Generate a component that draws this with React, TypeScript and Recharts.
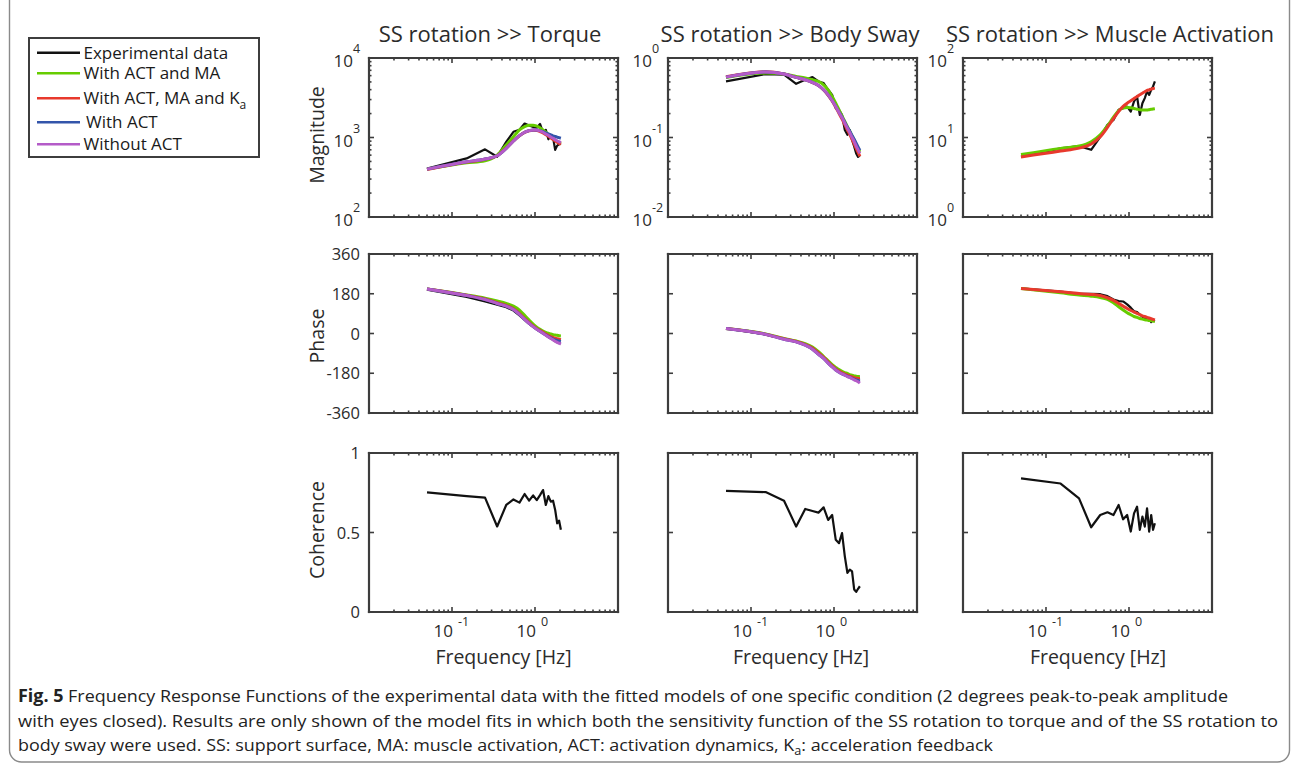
import React from 'react';
import { ComposedChart, Line, XAxis, YAxis } from 'recharts';

// excitation frequencies [Hz]
const FREQ = [0.05, 0.15, 0.25, 0.35, 0.45, 0.55, 0.65, 0.75, 0.85, 0.95, 1.05, 1.15, 1.25, 1.35, 1.45, 1.55, 1.65, 1.75, 1.85, 1.95, 2.05];

// SS rotation >> Torque, magnitude
const tqMagExp = [408, 546, 710, 573, 880, 1180, 1250, 1500, 1420, 1360, 1330, 1480, 1150, 1250, 950, 1080, 1000, 700, 790, 820, 840];
const tqMagG = [400, 480, 509, 600, 803, 1023, 1245, 1368, 1430, 1430, 1390, 1330, 1245, 1165, 1090, 1020, 960, 930, 885, 860, 840];
const tqMagR = [395, 490, 532, 590, 735, 905, 1050, 1160, 1215, 1235, 1225, 1190, 1140, 1085, 1035, 985, 945, 905, 870, 845, 820];
const tqMagB = [400, 494, 536, 589, 731, 903, 1054, 1165, 1222, 1245, 1245, 1220, 1185, 1140, 1110, 1075, 1050, 1030, 1010, 995, 980];
const tqMagP = [400, 494, 536, 589, 731, 903, 1054, 1165, 1222, 1245, 1240, 1208, 1165, 1107, 1065, 1014, 977, 938, 905, 885, 859];

// SS rotation >> Body Sway, magnitude
const bsMagExp = [0.507, 0.628, 0.616, 0.474, 0.532, 0.575, 0.507, 0.483, 0.398, 0.344, 0.234, 0.223, 0.192, 0.124, 0.108, 0.124, 0.093, 0.077, 0.063, 0.057, 0.06];
const bsMagG = [0.57, 0.646, 0.628, 0.587, 0.56, 0.532, 0.507, 0.46, 0.398, 0.328, 0.27, 0.223, 0.187, 0.159, 0.137, 0.119, 0.105, 0.093, 0.082, 0.073, 0.066];
const bsMagR = [0.58, 0.67, 0.63, 0.57, 0.53, 0.49, 0.45, 0.395, 0.34, 0.288, 0.24, 0.2, 0.17, 0.145, 0.125, 0.109, 0.095, 0.083, 0.073, 0.065, 0.058];
const bsMagB = [0.575, 0.666, 0.628, 0.57, 0.532, 0.493, 0.452, 0.398, 0.344, 0.292, 0.246, 0.208, 0.18, 0.155, 0.135, 0.12, 0.106, 0.095, 0.085, 0.076, 0.069];
const bsMagP = [0.575, 0.666, 0.628, 0.57, 0.532, 0.493, 0.452, 0.398, 0.344, 0.292, 0.245, 0.206, 0.177, 0.151, 0.131, 0.115, 0.1, 0.089, 0.078, 0.07, 0.063];

// SS rotation >> Muscle Activation, magnitude
const maMagExp = [5.73, 7.3, 7.8, 7.0, 10.2, 14.4, 16.6, 22.3, 23.4, 24.5, 21.2, 28.4, 32.8, 19.2, 27, 31.3, 37.9, 34.4, 39.8, 43.9, 50.7];
const maMagG = [6.1, 7.3, 7.8, 8.85, 10.8, 14, 18, 21.8, 23.4, 23.8, 23.6, 23.2, 22.7, 22.3, 22.2, 22.1, 22.2, 22.4, 22.6, 22.8, 23];
const maMagR = [5.7, 6.75, 7.36, 8.27, 10.2, 13.4, 17.3, 21.2, 24.6, 27, 28.9, 30.9, 32.8, 34.4, 36.1, 37.6, 39.1, 39.8, 40.6, 41.4, 41.8];

// phase [deg]
const tqPhExp = [199, 166, 145, 130, 119, 104, 82, 61, 44, 31, 19, 10, 1, -8, -16, -23, -29, -35, -40, -44, -44];
const tqPhG = [202, 175, 160, 147, 136, 124, 106, 82, 61, 43, 29, 19, 11, 5, 1, -2, -5, -7, -8, -10, -11];
const tqPhR = [202, 173, 156, 139, 127, 112, 90, 67, 49, 34, 22, 13, 5, -3, -9, -14, -18, -21, -24, -26, -28];
const tqPhB = [202, 172, 154, 136, 124, 109, 86, 64, 46, 31, 19, 10, 1, -7, -14, -20, -25, -29, -32, -34, -36];
const tqPhP = [202, 172, 154, 136, 124, 109, 86, 64, 46, 31, 19, 10, 1, -8, -16, -23, -29, -35, -40, -44, -48];

const bsPhExp = [23, -4, -25, -37, -52, -70, -93, -112, -133, -150, -164, -174, -182, -188, -193, -197, -201, -204, -206, -202, -200];
const bsPhG = [23, -2, -22, -34, -46, -61, -82, -104, -124, -141, -154, -163, -171, -177, -181, -186, -189, -192, -193, -195, -195];
const bsPhR = [23, -3, -24, -36, -50, -66, -88, -108, -129, -146, -160, -170, -178, -184, -189, -193, -197, -200, -202, -204, -205];
const bsPhB = [23, -4, -26, -38, -53, -71, -94, -113, -134, -151, -165, -175, -183, -189, -194, -198, -203, -207, -210, -213, -216];
const bsPhP = [23, -4, -26, -38, -53, -71, -94, -113, -134, -151, -165, -175, -183, -189, -195, -199, -205, -210, -214, -219, -225];

const maPhExp = [204, 190, 180, 180, 178, 169, 154, 147, 145, 132, 117, 101, 97, 86, 76, 70, 67, 64, 52, 59, 55];
const maPhG = [204, 184, 174, 169, 163, 154, 139, 121, 106, 94, 85, 77, 73, 68, 65, 62, 61, 59, 58, 56, 56];
const maPhR = [204, 189, 181, 177, 172, 162, 150, 136, 124, 113, 104, 97, 91, 85, 80, 77, 73, 70, 67, 64, 61];

// coherence
const tqCoh = [0.752, 0.729, 0.719, 0.538, 0.673, 0.708, 0.688, 0.742, 0.7, 0.733, 0.704, 0.735, 0.767, 0.673, 0.729, 0.694, 0.7, 0.642, 0.558, 0.575, 0.517];
const bsCoh = [0.762, 0.754, 0.7, 0.537, 0.648, 0.635, 0.625, 0.658, 0.579, 0.61, 0.454, 0.433, 0.496, 0.35, 0.246, 0.267, 0.256, 0.142, 0.127, 0.146, 0.162];
const maCoh = [0.84, 0.808, 0.715, 0.533, 0.61, 0.627, 0.61, 0.673, 0.583, 0.61, 0.506, 0.62, 0.662, 0.517, 0.6, 0.537, 0.652, 0.506, 0.61, 0.517, 0.558];

// axes
const X_TICKS = [0.01, 0.02, 0.03, 0.04, 0.05, 0.06, 0.07, 0.08, 0.09, 0.1, 0.2, 0.3, 0.4, 0.5, 0.6, 0.7, 0.8, 0.9, 1, 2, 3, 4, 5, 6, 7, 8, 9, 10];
const X_LABELED = [0.1, 1];
const PHASE_TICKS = [-360, -180, 0, 180, 360];
const COH_TICKS = [0, 0.5, 1];
const TITLES = ['SS rotation >> Torque', 'SS rotation >> Body Sway', 'SS rotation >> Muscle Activation'];
const ROW_LABELS = ['Magnitude', 'Phase', 'Coherence'];
const LEGEND = ['Experimental data', 'With ACT and MA', 'With ACT, MA and K', 'With ACT', 'Without ACT'];

const COLORS = { exp: '#111111', g: '#66cc00', r: '#e8392d', b: '#3355aa', p: '#b45bc8' };
const AXIS = '#3d3d3d';
const TEXT = '#2b2b2b';
const FONT = '"Open Sans", "Noto Sans", sans-serif';

const COL_X = [369, 668, 963];
const ROW_Y = [58, 254, 453];
const BOX_W = 249;
const BOX_H = 159;

const logTicks = (lo: number, hi: number) => {
  const out: number[] = [];
  for (let e = lo; e < hi; e++) {
    for (let m = 1; m < 10; m++) out.push(m * Math.pow(10, e));
  }
  out.push(Math.pow(10, hi));
  return out;
};

const isDecade = (v: number) => Math.abs(Math.log10(v) - Math.round(Math.log10(v))) < 1e-6;

const rows = (cols: Record<string, number[]>) =>
  FREQ.map((f, i) => {
    const r: Record<string, number> = { f };
    Object.keys(cols).forEach((k) => (r[k] = cols[k][i]));
    return r;
  });

const XTick = (props: any) => {
  const { x, y, payload, side, labels } = props;
  const v = payload.value;
  const major = isDecade(v);
  const len = major ? 5 : 2.5;
  const dir = side === 'bottom' ? -1 : 1;
  const exp = Math.round(Math.log10(v));
  const showLabel = labels && X_LABELED.some((t) => Math.abs(t - v) < 1e-9);
  return (
    <g>
      <line x1={x} y1={y} x2={x} y2={y + dir * len} stroke={AXIS} strokeWidth={1.6} />
      {showLabel && (
        <g fontFamily={FONT} fill={TEXT}>
          <text x={x + 1} y={y + 25} fontSize={17} textAnchor="end">10</text>
          <text x={x + 6} y={y + 14} fontSize={12.5} textAnchor="start">{exp}</text>
        </g>
      )}
    </g>
  );
};

const YTick = (props: any) => {
  const { x, y, payload, side, kind, labels } = props;
  const v = payload.value;
  const major = kind !== 'log' || isDecade(v);
  const len = major ? 5 : 2.5;
  const dir = side === 'left' ? 1 : -1;
  let label = null;
  if (labels && major) {
    if (kind === 'log') {
      const exp = Math.round(Math.log10(v));
      label = (
        <g fontFamily={FONT} fill={TEXT}>
          <text x={x - 16} y={y + 9} fontSize={17} textAnchor="end">10</text>
          <text x={x - 16} y={y - 5} fontSize={12.5} textAnchor="start">{exp}</text>
        </g>
      );
    } else {
      label = (
        <text x={x - 9} y={y + 6} fontSize={16.5} textAnchor="end" fontFamily={FONT} fill={TEXT}>
          {v}
        </text>
      );
    }
  }
  return (
    <g>
      <line x1={x} y1={y} x2={x + dir * len} y2={y} stroke={AXIS} strokeWidth={1.6} />
      {label}
    </g>
  );
};

type Series = { key: string; color: string; width: number; smooth: boolean };

const SERIES_ALL: Series[] = [
  { key: 'exp', color: COLORS.exp, width: 2.2, smooth: false },
  { key: 'g', color: COLORS.g, width: 3, smooth: true },
  { key: 'r', color: COLORS.r, width: 3, smooth: true },
  { key: 'b', color: COLORS.b, width: 3, smooth: true },
  { key: 'p', color: COLORS.p, width: 3, smooth: true },
];

interface PanelProps {
  col: number;
  row: number;
  data: Record<string, number>[];
  keys: string[];
  kind: 'log' | 'lin';
  domain: [number, number];
  ticks: number[];
  yLabels: boolean;
  xLabels: boolean;
}

const Panel = ({ col, row, data, keys, kind, domain, ticks, yLabels, xLabels }: PanelProps) => {
  const left = COL_X[col];
  const top = ROW_Y[row];
  const axisLine = { stroke: AXIS, strokeWidth: 2.2, strokeLinecap: 'square' as const };
  const xCommon = {
    dataKey: 'f',
    type: 'number' as const,
    scale: 'log' as const,
    domain: [0.01, 10],
    ticks: X_TICKS,
    interval: 0,
    allowDataOverflow: true,
    tickSize: 0,
    tickMargin: 0,
    tickLine: false,
    axisLine,
  };
  const yCommon = {
    type: 'number' as const,
    scale: kind === 'log' ? ('log' as const) : ('linear' as const),
    domain,
    ticks,
    interval: 0,
    allowDataOverflow: true,
    tickSize: 0,
    tickMargin: 0,
    tickLine: false,
    axisLine,
  };
  // top / right axes get 1px so that they are drawn (box on, ticks on all sides)
  return (
    <div style={{ position: 'absolute', left: left - 80, top: top - 30 }}>
      <ComposedChart width={BOX_W + 100} height={BOX_H + 80} data={data} margin={{ top: 29, right: 19, bottom: 0, left: 0 }}>
        <XAxis {...xCommon} xAxisId="b" orientation="bottom" height={50}
          tick={(p: any) => <XTick {...p} side="bottom" labels={xLabels} />} />
        <XAxis {...xCommon} xAxisId="t" orientation="top" height={1}
          tick={(p: any) => <XTick {...p} side="top" labels={false} />} />
        <YAxis {...yCommon} yAxisId="l" orientation="left" width={80}
          tick={(p: any) => <YTick {...p} side="left" kind={kind} labels={yLabels} />} />
        <YAxis {...yCommon} yAxisId="r" orientation="right" width={1}
          tick={(p: any) => <YTick {...p} side="right" kind={kind} labels={false} />} />
        {SERIES_ALL.filter((s) => keys.includes(s.key)).map((s) => (
          <Line
            key={s.key}
            xAxisId="b"
            yAxisId="l"
            dataKey={s.key}
            type={s.smooth ? 'monotone' : 'linear'}
            stroke={s.color}
            strokeWidth={s.width}
            strokeLinejoin="round"
            dot={false}
            activeDot={false}
            isAnimationActive={false}
          />
        ))}
      </ComposedChart>
    </div>
  );
};

const FIVE = ['exp', 'g', 'r', 'b', 'p'];
const THREE = ['exp', 'g', 'r'];

const App = () => {
  const legendY = [52.7, 73.3, 98.3, 122.3, 144.3];
  const legendColors = [COLORS.exp, COLORS.g, COLORS.r, COLORS.b, COLORS.p];
  return (
    <div style={{ position: 'absolute', left: 0, top: 0, width: 1292, height: 768, background: '#fff', overflow: 'hidden' }}>
      <svg width={1292} height={768} style={{ position: 'absolute', left: 0, top: 0 }} fontFamily={FONT}>
        <rect x={9.5} y={-30} width={1280} height={792} rx={12} fill="none" stroke="#8a8a8a" strokeWidth={1.4} />
        {TITLES.map((t, i) => (
          <text key={t} x={[490, 790, 1110][i]} y={42} fontSize={22} textAnchor="middle" fill={TEXT}>{t}</text>
        ))}
        {ROW_LABELS.map((t, i) => (
          <text key={t} x={316} y={[135, 336, 530][i]} fontSize={19.5} textAnchor="middle" dominantBaseline="central"
            transform={`rotate(-90 316 ${[135, 336, 530][i]})`} fill={TEXT}>{t}</text>
        ))}
        {[503.5, 801, 1098].map((cx) => (
          <text key={cx} x={cx} y={664} fontSize={19.5} textAnchor="middle" fill={TEXT}>Frequency [Hz]</text>
        ))}
        <rect x={29} y={38} width={230} height={119} fill="#fff" stroke={AXIS} strokeWidth={2} />
        {LEGEND.map((t, i) => (
          <g key={t}>
            <line x1={37} x2={80} y1={legendY[i]} y2={legendY[i]} stroke={legendColors[i]} strokeWidth={2.6} />
            <text x={i === 3 ? 86 : 83.5} y={legendY[i] + 6} fontSize={17} fill="#1a1a1a">
              {t}
              {i === 2 && <tspan fontSize={12} dy={5}>a</tspan>}
            </text>
          </g>
        ))}
        <g fontSize={17} fill="#222">
          <text x={18} y={702} textLength={1210} lengthAdjust="spacingAndGlyphs">
            <tspan fontWeight="bold">Fig. 5</tspan> Frequency Response Functions of the experimental data with the fitted models of one specific condition (2 degrees peak-to-peak amplitude
          </text>
          <text x={18} y={727} textLength={1260} lengthAdjust="spacingAndGlyphs">
            with eyes closed). Results are only shown of the model fits in which both the sensitivity function of the SS rotation to torque and of the SS rotation to
          </text>
          <text x={18} y={751} textLength={975} lengthAdjust="spacingAndGlyphs">
            body sway were used. SS: support surface, MA: muscle activation, ACT: activation dynamics, K<tspan fontSize={12} dy={4}>a</tspan><tspan fontSize={17} dy={-4}>: acceleration feedback</tspan>
          </text>
        </g>
      </svg>

      <Panel col={0} row={0} data={rows({ exp: tqMagExp, g: tqMagG, r: tqMagR, b: tqMagB, p: tqMagP })} keys={FIVE}
        kind="log" domain={[100, 10000]} ticks={logTicks(2, 4)} yLabels xLabels={false} />
      <Panel col={1} row={0} data={rows({ exp: bsMagExp, g: bsMagG, r: bsMagR, b: bsMagB, p: bsMagP })} keys={FIVE}
        kind="log" domain={[0.01, 1]} ticks={logTicks(-2, 0)} yLabels xLabels={false} />
      <Panel col={2} row={0} data={rows({ exp: maMagExp, g: maMagG, r: maMagR })} keys={THREE}
        kind="log" domain={[1, 100]} ticks={logTicks(0, 2)} yLabels xLabels={false} />

      <Panel col={0} row={1} data={rows({ exp: tqPhExp, g: tqPhG, r: tqPhR, b: tqPhB, p: tqPhP })} keys={FIVE}
        kind="lin" domain={[-360, 360]} ticks={PHASE_TICKS} yLabels xLabels={false} />
      <Panel col={1} row={1} data={rows({ exp: bsPhExp, g: bsPhG, r: bsPhR, b: bsPhB, p: bsPhP })} keys={FIVE}
        kind="lin" domain={[-360, 360]} ticks={PHASE_TICKS} yLabels={false} xLabels={false} />
      <Panel col={2} row={1} data={rows({ exp: maPhExp, g: maPhG, r: maPhR })} keys={THREE}
        kind="lin" domain={[-360, 360]} ticks={PHASE_TICKS} yLabels={false} xLabels={false} />

      <Panel col={0} row={2} data={rows({ exp: tqCoh })} keys={['exp']}
        kind="lin" domain={[0, 1]} ticks={COH_TICKS} yLabels xLabels />
      <Panel col={1} row={2} data={rows({ exp: bsCoh })} keys={['exp']}
        kind="lin" domain={[0, 1]} ticks={COH_TICKS} yLabels={false} xLabels />
      <Panel col={2} row={2} data={rows({ exp: maCoh })} keys={['exp']}
        kind="lin" domain={[0, 1]} ticks={COH_TICKS} yLabels={false} xLabels />
    </div>
  );
};

export default App;
